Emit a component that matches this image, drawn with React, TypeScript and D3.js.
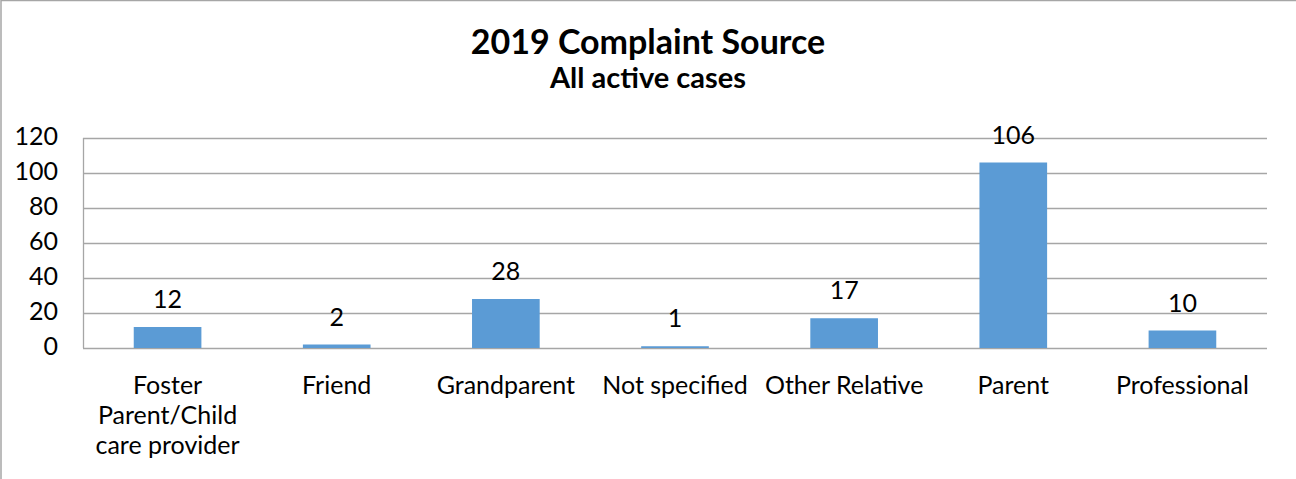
import React from "react";
import * as d3 from "d3";

const categories = [
  ["Foster", "Parent/Child", "care provider"],
  ["Friend"],
  ["Grandparent"],
  ["Not specified"],
  ["Other Relative"],
  ["Parent"],
  ["Professional"],
];
const values = [12, 2, 28, 1, 17, 106, 10];
const yTicks = [0, 20, 40, 60, 80, 100, 120];
const title = "2019 Complaint Source";
const subtitle = "All active cases";

const W = 1296;
const H = 479;
const FONT = "Lato, 'Open Sans', sans-serif";

export default function App() {
  const left = 83;
  const right = 1267;
  const top = 138;
  const bottom = 348;
  const x = d3
    .scaleBand<number>()
    .domain(d3.range(values.length))
    .range([left, right])
    .paddingInner(0.6)
    .paddingOuter(0.3);
  const y = d3.scaleLinear().domain([0, 120]).range([bottom, top]);
  const grid = "#A6A6A6";
  const fs = 25;

  return (
    <svg
      width={W}
      height={H}
      style={{ position: "absolute", left: 0, top: 0, background: "#fff" }}
      fontFamily={FONT}
    >
      <rect x={1} y={0.5} width={W + 20} height={H + 20} fill="#fff" stroke={grid} strokeWidth={1.5} />
      <text x={648} y={54} textAnchor="middle" fontWeight="bold" fontSize={34} fill="#000">
        {title}
      </text>
      <text x={648} y={88} textAnchor="middle" fontWeight="bold" fontSize={29} fill="#000">
        {subtitle}
      </text>
      {yTicks.map((t) => (
        <g key={t}>
          <line x1={left} x2={right} y1={Math.round(y(t)) + 0.5} y2={Math.round(y(t)) + 0.5} stroke={grid} strokeWidth={1.3} />
          <text x={58} y={y(t) + 7} textAnchor="end" fontSize={fs} fill="#000">
            {t}
          </text>
        </g>
      ))}
      <line x1={left + 0.5} x2={left + 0.5} y1={top} y2={bottom} stroke={grid} strokeWidth={1.3} />
      {values.map((v, i) => {
        const bx = x(i)!;
        const bw = x.bandwidth();
        const cx = bx + bw / 2;
        return (
          <g key={i}>
            <rect x={bx} y={y(v)} width={bw} height={bottom - y(v)} fill="#5B9BD5" />
            <text x={cx} y={y(v) - 19} textAnchor="middle" fontSize={fs} fill="#000">
              {v}
            </text>
            {categories[i].map((line, j) => (
              <text key={j} x={cx} y={394 + j * 30} textAnchor="middle" fontSize={fs} fill="#000">
                {line}
              </text>
            ))}
          </g>
        );
      })}
    </svg>
  );
}
